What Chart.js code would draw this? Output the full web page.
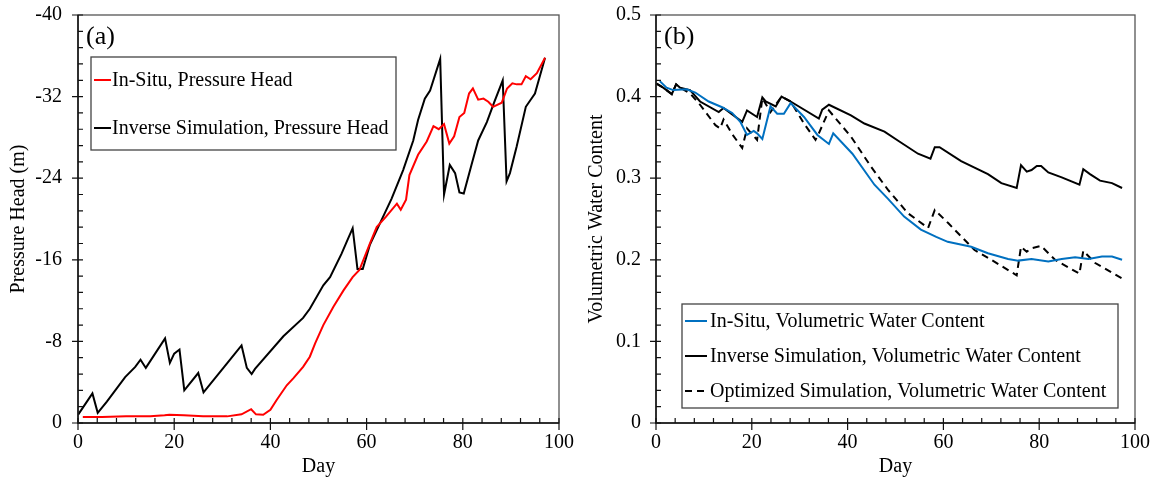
<!DOCTYPE html>
<html><head><meta charset="utf-8">
<script src="https://cdn.jsdelivr.net/npm/chart.js@4.4.1/dist/chart.umd.min.js"></script>
<style>
html,body{margin:0;padding:0;background:#fff;}
#wrap{position:relative;width:1161px;height:483px;background:#fff;}
.box{position:absolute;top:0;height:483px;}
</style></head><body>
<div id="wrap">
<div class="box" style="left:0;width:580px"><canvas id="ca"></canvas></div>
<div class="box" style="left:580px;width:581px"><canvas id="cb"></canvas></div>
</div>
<script>
// ---------- Panel (a): pressure head ----------
const dayInSituA = [1, 5, 10, 15, 18, 19, 22, 26, 31, 34, 36, 37, 38.5, 40, 41.3, 43.4, 44.8, 46.8, 48.2, 49.3, 51, 53.1, 55.2, 57.1, 58.5, 60.7, 62.1, 64, 66.3, 67.1, 68.2, 68.9, 70.7, 72.5, 73.9, 75.0, 76.1, 77.2, 78.2, 79.3, 80.3, 81.3, 82.1, 83.2, 84.3, 85.3, 86.3, 88.1, 89.2, 90.3, 91.2, 92.2, 93.1, 94.1, 95.4, 97.1];
const headInSituA = [-0.6, -0.6, -0.65, -0.65, -0.75, -0.8, -0.75, -0.65, -0.65, -0.85, -1.35, -0.85, -0.8, -1.3, -2.25, -3.7, -4.4, -5.5, -6.5, -7.8, -9.6, -11.4, -13.0, -14.3, -15.0, -17.6, -19.2, -20.2, -21.5, -20.9, -21.9, -24.3, -26.3, -27.6, -29.1, -28.8, -29.3, -27.4, -28.1, -30.0, -30.4, -32.3, -32.8, -31.7, -31.8, -31.5, -31.0, -31.4, -32.8, -33.3, -33.2, -33.2, -34.0, -33.7, -34.3, -35.8];
const dayInvA = [0, 3.0, 4.1, 6, 9.8, 11.9, 13.0, 14.1, 18.1, 19.1, 20.0, 21.1, 22.1, 25.0, 26.1, 30.9, 34.0, 35.1, 36.1, 36.8, 42.7, 46.8, 48.2, 51.0, 52.4, 54.8, 55.9, 57.1, 58.1, 59.2, 60.7, 62.8, 65.2, 67.6, 69.7, 70.7, 72.1, 73.2, 75.3, 76.1, 77.3, 78.4, 79.3, 80.2, 81.8, 83.2, 85.0, 86.5, 88.3, 89.1, 89.8, 91.2, 93.1, 95.0, 95.9, 97.1];
const headInvA = [-0.8, -2.9, -1.0, -2.1, -4.5, -5.5, -6.2, -5.4, -8.3, -5.9, -6.8, -7.2, -3.2, -4.9, -3.0, -5.8, -7.6, -5.4, -4.8, -5.3, -8.5, -10.3, -11.2, -13.5, -14.3, -16.6, -17.8, -19.1, -15.1, -15.1, -17.5, -19.6, -22.0, -24.8, -27.7, -29.7, -31.8, -32.6, -35.7, -22.4, -25.3, -24.5, -22.6, -22.5, -25.3, -27.7, -29.5, -31.4, -33.6, -23.7, -24.5, -27.1, -31.0, -32.3, -33.8, -35.8];

// ---------- Panel (b): volumetric water content ----------
const dayInSituB = [0.8, 2.2, 3.6, 6.4, 8.2, 11.0, 13.8, 15.9, 17.6, 19.0, 20.4, 21.1, 22.2, 23.9, 25.3, 26.7, 28.1, 30.9, 33.7, 36.1, 37.0, 41.0, 45.6, 48.4, 51.8, 55.3, 58.5, 60.9, 65.8, 69.3, 73.5, 75.6, 78.4, 81.9, 84.7, 87.5, 90.3, 93.1, 95.2, 97.3];
const vwcInSituB = [0.419, 0.411, 0.408, 0.409, 0.405, 0.394, 0.387, 0.380, 0.369, 0.353, 0.358, 0.355, 0.348, 0.388, 0.379, 0.379, 0.392, 0.375, 0.353, 0.342, 0.355, 0.330, 0.292, 0.275, 0.253, 0.237, 0.228, 0.222, 0.216, 0.208, 0.201, 0.199, 0.201, 0.198, 0.201, 0.203, 0.201, 0.204, 0.204, 0.200];
const dayInvB = [0.1, 1.5, 3.3, 4.2, 5.0, 7.1, 9.2, 13.1, 14.1, 18.0, 19.0, 21.1, 22.2, 22.9, 25.0, 26.2, 28.1, 34.0, 34.7, 36.1, 40.7, 43.5, 47.7, 50.8, 54.7, 57.3, 58.2, 59.2, 63.7, 69.3, 72.1, 75.3, 76.2, 77.4, 78.4, 79.5, 80.4, 81.9, 84.7, 88.4, 89.2, 90.6, 92.7, 95.2, 97.3];
const vwcInvB = [0.416, 0.411, 0.403, 0.415, 0.411, 0.408, 0.394, 0.381, 0.386, 0.369, 0.383, 0.375, 0.399, 0.394, 0.388, 0.400, 0.394, 0.373, 0.384, 0.390, 0.377, 0.367, 0.357, 0.345, 0.330, 0.324, 0.338, 0.338, 0.321, 0.305, 0.294, 0.288, 0.316, 0.308, 0.310, 0.315, 0.315, 0.307, 0.301, 0.292, 0.311, 0.305, 0.297, 0.294, 0.288];
const dayOptB = [0.1, 1.5, 3.3, 4.2, 5.0, 7.1, 9.2, 12.4, 13.4, 14.1, 15.9, 18.0, 19.0, 21.1, 22.2, 23.9, 26.2, 28.1, 30.9, 33.3, 34.0, 36.1, 40.7, 44.9, 48.4, 52.6, 56.8, 58.2, 61.0, 66.5, 70.0, 75.3, 76.2, 77.4, 78.4, 80.4, 83.3, 88.4, 89.2, 91.7, 97.3];
const vwcOptB = [0.416, 0.411, 0.403, 0.415, 0.411, 0.404, 0.390, 0.365, 0.361, 0.372, 0.354, 0.337, 0.361, 0.347, 0.398, 0.381, 0.400, 0.394, 0.367, 0.347, 0.355, 0.383, 0.351, 0.314, 0.286, 0.257, 0.239, 0.261, 0.245, 0.212, 0.200, 0.181, 0.216, 0.210, 0.214, 0.217, 0.200, 0.183, 0.211, 0.196, 0.177];

// ---------- labels ----------
const xTitle = 'Day';
const yTitleA = 'Pressure Head (m)';
const yTitleB = 'Volumetric Water Content';
const panelA = '(a)';
const panelB = '(b)';
const labelsA = ['In-Situ, Pressure Head', 'Inverse Simulation, Pressure Head'];
const labelsB = ['In-Situ, Volumetric Water Content', 'Inverse Simulation, Volumetric Water Content', 'Optimized Simulation, Volumetric Water Content'];

const FONT = "'Liberation Serif', 'Times New Roman', serif";
Chart.defaults.font.family = FONT;
Chart.defaults.font.size = 20;
Chart.defaults.color = '#000';

function pts(xs, ys) { return xs.map((x, i) => ({x: x, y: ys[i]})); }

const decor = {
  id: 'decor',
  afterDraw(chart, args, o) {
    const ctx = chart.ctx, a = chart.chartArea;
    const xs = chart.scales.x, ys = chart.scales.y;
    ctx.save();
    // frame
    ctx.strokeStyle = '#555'; ctx.lineWidth = 1.3;
    ctx.strokeRect(a.left, a.top, a.right - a.left, a.bottom - a.top);
    ctx.strokeStyle = '#111'; ctx.lineWidth = 1.5;
    ctx.beginPath(); ctx.moveTo(a.left, a.top); ctx.lineTo(a.left, a.bottom); ctx.lineTo(a.right, a.bottom); ctx.stroke();
    // ticks
    ctx.lineWidth = 1.2; ctx.strokeStyle = '#111';
    ctx.beginPath();
    const nx = Math.round((xs.max - xs.min) / o.xMinor);
    for (let i = 0; i <= nx; i++) {
      const v = xs.min + i * o.xMinor;
      const px = xs.getPixelForValue(v);
      const major = i % o.xPer === 0;
      ctx.moveTo(px, a.bottom + (major ? 7 : 0)); ctx.lineTo(px, a.bottom - 5);
    }
    const ny = Math.round((ys.max - ys.min) / o.yMinor);
    for (let i = 0; i <= ny; i++) {
      const v = ys.min + i * o.yMinor;
      const py = ys.getPixelForValue(v);
      const major = i % o.yPer === 0;
      ctx.moveTo(a.left - (major ? 6 : 0), py); ctx.lineTo(a.left + 5, py);
    }
    ctx.stroke();
    // panel label
    ctx.fillStyle = '#000';
    ctx.font = '26px ' + FONT;
    ctx.textBaseline = 'middle'; ctx.textAlign = 'left';
    ctx.fillText(o.panel, a.left + 8, a.top + 22);
    // legend box
    const L = o.legend;
    const bx = a.left + L.x, by = a.top + L.y;
    ctx.fillStyle = '#fff';
    ctx.fillRect(bx, by, L.w, L.h);
    ctx.strokeStyle = '#444'; ctx.lineWidth = 1.3;
    ctx.strokeRect(bx, by, L.w, L.h);
    ctx.font = L.size + 'px ' + FONT;
    chart.data.datasets.forEach((ds, i) => {
      const cy = by + L.first + i * L.row;
      ctx.strokeStyle = ds.borderColor; ctx.lineWidth = 2;
      ctx.setLineDash(ds.borderDash || []);
      ctx.beginPath(); ctx.moveTo(bx + 3, cy); ctx.lineTo(bx + 3 + L.sample, cy); ctx.stroke();
      ctx.setLineDash([]);
      ctx.fillStyle = '#000';
      ctx.fillText(ds.label, bx + L.text, cy + 1);
    });
    ctx.restore();
  }
};

function scaleX() {
  return {
    type: 'linear', min: 0, max: 100,
    ticks: {stepSize: 20, padding: 8, maxRotation: 0},
    grid: {display: true, drawOnChartArea: false, drawTicks: false},
    border: {display: false},
    title: {display: true, text: xTitle, padding: {top: 0, bottom: 4}},
    afterFit(s) { s.height = 60; s.paddingLeft = 0; s.paddingRight = 0; }
  };
}

new Chart(document.getElementById('ca'), {
  type: 'line',
  data: {datasets: [
    {label: labelsA[0], data: pts(dayInSituA, headInSituA), borderColor: '#ff0000', borderWidth: 2, pointRadius: 0, tension: 0, fill: false},
    {label: labelsA[1], data: pts(dayInvA, headInvA), borderColor: '#000000', borderWidth: 2, pointRadius: 0, tension: 0, fill: false}
  ]},
  options: {
    responsive: true, maintainAspectRatio: false, animation: false,
    layout: {padding: {top: 15, right: 21, left: 0, bottom: 0}},
    plugins: {legend: {display: false}, tooltip: {enabled: false},
      decor: {xMinor: 4, xPer: 5, yMinor: 1.6, yPer: 5, panel: panelA,
        legend: {x: 13, y: 42, w: 305, h: 93, first: 23, row: 48, sample: 17, text: 21, size: 20}}},
    scales: {
      x: scaleX(),
      y: {type: 'linear', min: -40, max: 0, reverse: true,
        ticks: {stepSize: 8, padding: 16},
        grid: {display: true, drawOnChartArea: false, drawTicks: false},
        border: {display: false},
        title: {display: true, text: yTitleA, padding: {top: 7, bottom: 0}},
        afterFit(s) { s.width = 78; s.paddingTop = 0; s.paddingBottom = 0; }}
    }
  },
  plugins: [decor]
});

new Chart(document.getElementById('cb'), {
  type: 'line',
  data: {datasets: [
    {label: labelsB[0], data: pts(dayInSituB, vwcInSituB), borderColor: '#0070c0', borderWidth: 2, pointRadius: 0, tension: 0, fill: false},
    {label: labelsB[1], data: pts(dayInvB, vwcInvB), borderColor: '#000000', borderWidth: 2, pointRadius: 0, tension: 0, fill: false},
    {label: labelsB[2], data: pts(dayOptB, vwcOptB), borderColor: '#000000', borderWidth: 2, borderDash: [7, 5], pointRadius: 0, tension: 0, fill: false}
  ]},
  options: {
    responsive: true, maintainAspectRatio: false, animation: false,
    layout: {padding: {top: 15, right: 26, left: 0, bottom: 0}},
    plugins: {legend: {display: false}, tooltip: {enabled: false},
      decor: {xMinor: 4, xPer: 5, yMinor: 0.02, yPer: 5, panel: panelB,
        legend: {x: 26, y: 289, w: 436, h: 104, first: 17, row: 35, sample: 22, text: 28, size: 20}}},
    scales: {
      x: scaleX(),
      y: {type: 'linear', min: 0, max: 0.5,
        ticks: {stepSize: 0.1, padding: 15},
        grid: {display: true, drawOnChartArea: false, drawTicks: false},
        border: {display: false},
        title: {display: true, text: yTitleB, padding: {top: 5, bottom: 0}},
        afterFit(s) { s.width = 76; s.paddingTop = 0; s.paddingBottom = 0; }}
    }
  },
  plugins: [decor]
});
</script>
</body></html>
